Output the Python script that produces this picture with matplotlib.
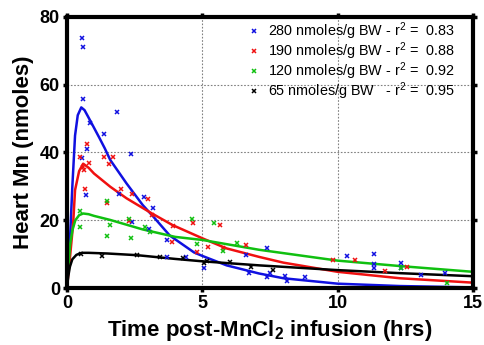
import matplotlib
matplotlib.use("Agg")
import matplotlib.pyplot as plt

plt.rcParams['font.family'] = ['Liberation Sans', 'DejaVu Sans']
plt.rcParams['mathtext.fontset'] = 'custom'
plt.rcParams['mathtext.rm'] = 'Liberation Sans'
plt.rcParams['mathtext.bf'] = 'Liberation Sans:bold'
plt.rcParams['mathtext.it'] = 'Liberation Sans:italic'

# ---- data: measured points (time in hrs, heart Mn in nmoles) ----
t280 = [0.55, 0.59, 0.59, 1.86, 0.85, 1.36, 0.76, 0.57, 2.36, 0.70, 1.91, 2.86, 3.18, 2.41, 3.02,
        3.71, 3.71, 4.40, 5.07, 6.61, 6.73, 7.38, 7.40, 7.52, 8.05, 8.15, 8.79, 10.34, 11.35, 11.35,
        11.35, 12.34, 12.34, 13.10, 13.97]
y280 = [73.7, 71.1, 55.8, 52.0, 48.7, 45.4, 41.1, 38.4, 39.6, 27.5, 27.9, 26.8, 23.5, 19.6, 17.5,
        14.1, 9.2, 9.2, 5.8, 9.8, 4.3, 11.9, 3.3, 4.5, 3.5, 2.1, 3.3, 9.5, 10.1, 7.1,
        6.0, 7.3, 5.8, 3.8, 4.5]

t190 = [0.74, 0.50, 1.37, 1.72, 0.81, 1.57, 0.58, 0.63, 0.68, 2.00, 2.40, 1.49, 3.00, 2.30, 3.14,
        3.92, 4.65, 5.65, 3.88, 5.23, 5.75, 6.60, 4.81, 9.84, 10.65, 11.76, 12.55]
y190 = [42.5, 38.7, 38.6, 38.6, 37.0, 36.6, 35.8, 34.8, 29.3, 29.3, 27.7, 25.0, 26.3, 19.9, 21.7,
        18.3, 19.3, 18.6, 13.7, 12.2, 11.9, 12.6, 10.7, 8.3, 8.3, 5.0, 6.2]

t120 = [0.47, 0.47, 1.49, 1.59, 1.47, 2.36, 2.29, 2.89, 3.07, 4.63, 5.42, 4.81, 5.75, 6.30, 12.34, 14.06]
y120 = [22.6, 18.1, 25.7, 18.6, 15.3, 14.7, 20.4, 18.1, 16.4, 20.4, 19.1, 13.0, 11.0, 13.2, 5.8, 1.6]

t65 = [0.51, 1.28, 2.60, 3.44, 4.30, 5.06, 5.18, 6.02, 6.79, 7.62]
y65 = [10.2, 9.5, 9.7, 9.2, 8.8, 7.3, 8.1, 7.8, 6.1, 5.3]

# ---- fitted curves ----
ct280 = [0, 0.1, 0.2, 0.3, 0.4, 0.53, 0.65, 0.8, 1.0, 1.2, 1.4, 1.6, 2.2, 2.8, 3.2, 3.8, 4.7, 5.0,
         5.9, 7.1, 8.0, 10, 12.3, 15]
cy280 = [0, 12, 30, 45, 51, 53.3, 52.5, 50.3, 47.3, 44.3, 41.2, 37.8, 30.9, 24.5, 21.0, 15.5, 10.5, 9.5,
         6.7, 4.3, 2.9, 1.3, 0.6, 0.2]

ct190 = [0, 0.1, 0.23, 0.3, 0.45, 0.6, 0.8, 1.0, 1.6, 2.2, 3.1, 3.9, 5.0, 5.9, 7.1, 8, 10, 12.3, 15]
cy190 = [0, 8, 19, 28.9, 34.5, 36.7, 35.5, 33.8, 29.9, 26.5, 22.2, 18.6, 14.7, 11.7, 9.2, 7.5, 4.8, 2.9, 1.6]

ct120 = [0, 0.05, 0.12, 0.2, 0.31, 0.45, 0.6, 0.8, 1.0, 1.6, 2.8, 4.0, 5.0, 7.1, 10, 12.3, 15]
cy120 = [0, 6, 13, 17, 20, 21.5, 22, 21.8, 21.3, 20.1, 17.3, 15.1, 14.2, 11.3, 8.1, 6.5, 4.8]

ct65 = [0, 0.05, 0.11, 0.2, 0.35, 0.54, 0.8, 1.5, 2.6, 4, 5, 7.1, 10, 12.3, 15]
cy65 = [0, 3.5, 6.3, 8.5, 9.8, 10.4, 10.4, 10.2, 9.7, 8.6, 7.9, 6.7, 5.3, 4.4, 3.5]

labels = ['280 nmoles/g BW - r$^2$ =  0.83',
          '190 nmoles/g BW - r$^2$ =  0.88',
          '120 nmoles/g BW - r$^2$ =  0.92',
          '65 nmoles/g BW   - r$^2$ =  0.95']
colors = ['#1010e0', '#f01010', '#10c010', '#000000']

xticks = [0, 5, 10, 15]
yticks = [0, 20, 40, 60, 80]

fig = plt.figure(figsize=(4.85, 3.45), dpi=100)
ax = fig.add_axes([0.138, 0.165, 0.837, 0.786])

pts = [(t280, y280), (t190, y190), (t120, y120), (t65, y65)]
curves = [(ct280, cy280), (ct190, cy190), (ct120, cy120), (ct65, cy65)]

handles = []
for (tx, ty), (cx, cy), c, lab in zip(pts, curves, colors, labels):
    h, = ax.plot(tx, ty, linestyle='none', marker='x', ms=3.5, mew=1.1, color=c, label=lab, zorder=3)
    ax.plot(cx, cy, color=c, lw=1.8, zorder=2, solid_capstyle='round')
    handles.append(h)

ax.set_xlim(0, 15)
ax.set_ylim(0, 80)
ax.set_xticks(xticks)
ax.set_yticks(yticks)
ax.set_xticklabels([str(v) for v in xticks], fontsize=13, fontweight='bold')
ax.set_yticklabels([str(v) for v in yticks], fontsize=13, fontweight='bold')

for s in ax.spines.values():
    s.set_linewidth(3)
ax.tick_params(direction='out', length=3, width=2.5, pad=2, top=True, right=True)

ax.grid(True, linestyle=(0, (1.5, 1.5)), color='#808080', lw=0.8, zorder=0)
ax.set_axisbelow(True)

ax.set_xlabel(r'Time post-MnCl$_\mathbf{2}$ infusion (hrs)', fontsize=16, fontweight='bold', labelpad=4)
ax.set_ylabel('Heart Mn (nmoles)', fontsize=16, fontweight='bold', labelpad=4)

leg = ax.legend(handles=handles, loc='upper left', bbox_to_anchor=(0.425, 1.025), frameon=False,
                fontsize=10.4, handlelength=0.6, handletextpad=0.7, labelspacing=-0.1,
                borderaxespad=0.3, markerscale=0.8)

fig.savefig('out.png', dpi=100)
